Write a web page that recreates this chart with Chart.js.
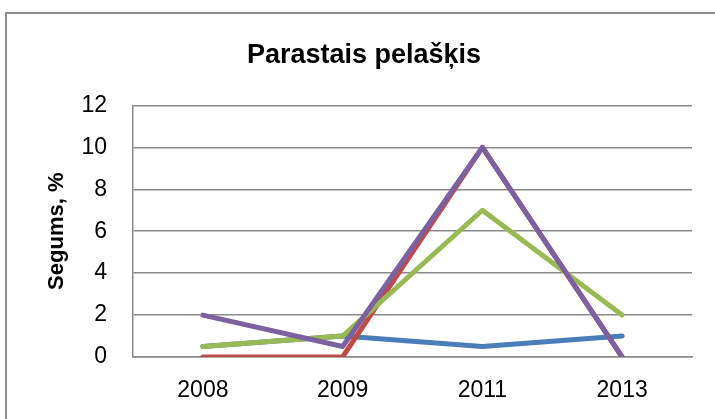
<!DOCTYPE html>
<html>
<head>
<meta charset="utf-8">
<script src="https://cdn.jsdelivr.net/npm/chart.js@4/dist/chart.umd.min.js"></script>
<style>
  html, body { margin: 0; padding: 0; background: #fff; }
  #wrap { width: 715px; height: 419px; }
</style>
</head>
<body>
<div id="wrap"><canvas id="chart" width="715" height="419"></canvas></div>
<script>
const years = ["2008", "2009", "2011", "2013"];
const seriesBlue = [0.5, 1, 0.5, 1];
const seriesRed = [0, 0, 10, 0];
const seriesGreen = [0.5, 1, 7, 2];
const seriesPurple = [2, 0.5, 10, 0];
const yTicks = [0, 2, 4, 6, 8, 10, 12];

const gridGray = "#8a8a8a";
const fontFamily = "'Liberation Sans', Arial, sans-serif";

// frame round the whole chart
const outerFrame = {
    id: "outerFrame",
    beforeDraw(chart) {
        const ctx = chart.ctx;
        ctx.save();
        ctx.fillStyle = "#fff";
        ctx.fillRect(0, 0, chart.width, chart.height);
        ctx.strokeStyle = "#8c8c8c";
        ctx.lineWidth = 2;
        ctx.strokeRect(6, 13, chart.width + 20, chart.height + 20);
        ctx.restore();
    }
};

// later series sit on top, so order counts down
function line(label, data, color, order) {
    return {
        label: label,
        data: data,
        order: order,
        borderColor: color,
        backgroundColor: color,
        borderWidth: 5,
        pointRadius: 0,
        tension: 0,
        borderCapStyle: "round",
        borderJoinStyle: "round",
        fill: false
    };
}

new Chart(document.getElementById("chart"), {
    type: "line",
    data: {
        labels: years,
        datasets: [
            line("1", seriesBlue, "#4a7ebb", 3),
            line("2", seriesRed, "#be4b48", 2),
            line("3", seriesGreen, "#98b954", 1),
            line("4", seriesPurple, "#7d60a0", 0)
        ]
    },
    options: {
        responsive: false,
        animation: false,
        layout: { padding: { left: 36, right: 23, top: 0, bottom: 0 } },
        plugins: {
            legend: { display: false },
            tooltip: { enabled: false },
            title: {
                display: true,
                text: "Parastais pelašķis",
                color: "#000",
                font: { family: fontFamily, size: 27, weight: "bold" },
                padding: { top: 39, bottom: 34 }
            }
        },
        scales: {
            x: {
                offset: true,
                grid: { display: false, drawTicks: false },
                border: { display: true, color: gridGray, width: 1.5 },
                ticks: {
                    color: "#000",
                    padding: 20,
                    font: { family: fontFamily, size: 23 }
                },
                afterFit(scale) { scale.height = 62; }
            },
            y: {
                min: 0,
                max: 12,
                afterBuildTicks(scale) {
                    scale.ticks = yTicks.map(v => ({ value: v }));
                },
                grid: { color: gridGray, lineWidth: 1.5, drawTicks: false },
                border: { display: true, color: gridGray, width: 1.5 },
                ticks: {
                    color: "#000",
                    padding: 26,
                    font: { family: fontFamily, size: 23 }
                },
                title: {
                    display: true,
                    text: "Segums, %",
                    color: "#000",
                    font: { family: fontFamily, size: 22, weight: "bold" },
                    padding: { top: 8, bottom: 0 }
                },
                afterFit(scale) { scale.width = 97; }
            }
        }
    },
    plugins: [outerFrame]
});
</script>
</body>
</html>
